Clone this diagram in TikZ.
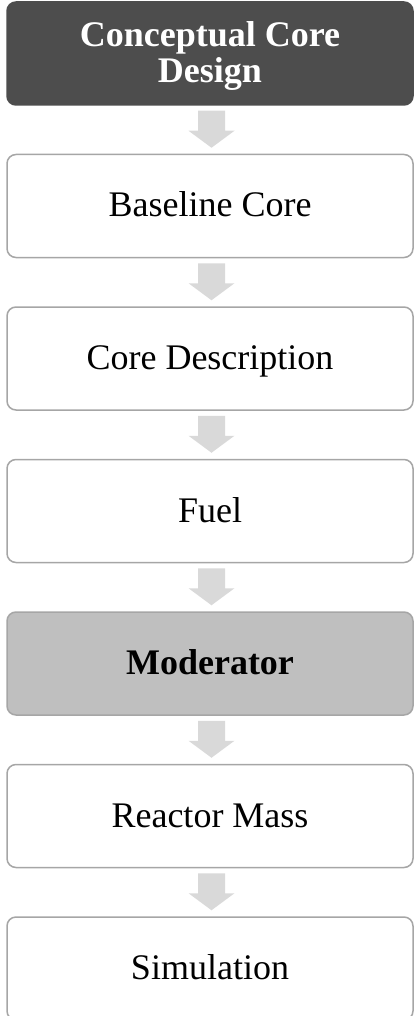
\documentclass[tikz,border=0pt]{standalone}
\usepackage{fontspec}
\setmainfont{Liberation Serif}
\usetikzlibrary{calc}

\definecolor{headfill}{HTML}{4D4D4D}
\definecolor{boxline}{HTML}{A6A6A6}
\definecolor{hilite}{HTML}{BFBFBF}
\definecolor{flowgray}{HTML}{D9D9D9}

\tikzset{
  stage/.style={draw=boxline, line width=1.5pt, fill=white, rounded corners=9pt,
    minimum width=406pt, minimum height=103pt, inner sep=0pt,
    text height=22pt, text depth=0pt,
    font=\fontsize{36}{36}\selectfont},
  headstage/.style={stage, draw=headfill, fill=headfill},
  headtext/.style={inner sep=0pt, text=white, align=center,
    font=\fontsize{36}{36}\selectfont\bfseries},
  keystage/.style={stage, fill=hilite, font=\fontsize{36}{36}\selectfont\bfseries},
  flow/.style={fill=flowgray, draw=none}
}

% block arrow from the bottom of #1 to the top of #2
\newcommand\flowstep[2]{%
  \fill[flow] ($(#1.south)+(-12pt,-5pt)$) -- ($(#1.south)+(15pt,-5pt)$)
    -- ($(#1.south)+(15pt,-25pt)$) -- ($(#1.south)+(24.5pt,-25pt)$)
    -- ($(#2.north)+(1.5pt,6pt)$)
    -- ($(#1.south)+(-21.5pt,-25pt)$) -- ($(#1.south)+(-12pt,-25pt)$) -- cycle;}

\begin{document}
\begin{tikzpicture}[x=1pt,y=1pt]
  \useasboundingbox (0,0) rectangle (414,-1016);

  \node[headstage] (s1) at (210,-53.5) {};
  \node[headtext] (s1t) at ([yshift=-2.7pt]s1.center) {Conceptual Core\\Design};
  \node[stage]     (s2) at (210,-206)  {Baseline Core};
  \node[stage]     (s3) at (210,-358.5) {Core Description};
  \node[stage]     (s4) at (210,-511)  {Fuel};
  \node[keystage]  (s5) at (210,-663.5) {Moderator};
  \node[stage]     (s6) at (210,-816)  {Reactor Mass};
  \node[stage]     (s7) at (210,-968.5) {Simulation};

  \flowstep{s1}{s2}
  \flowstep{s2}{s3}
  \flowstep{s3}{s4}
  \flowstep{s4}{s5}
  \flowstep{s5}{s6}
  \flowstep{s6}{s7}
\end{tikzpicture}
\end{document}
